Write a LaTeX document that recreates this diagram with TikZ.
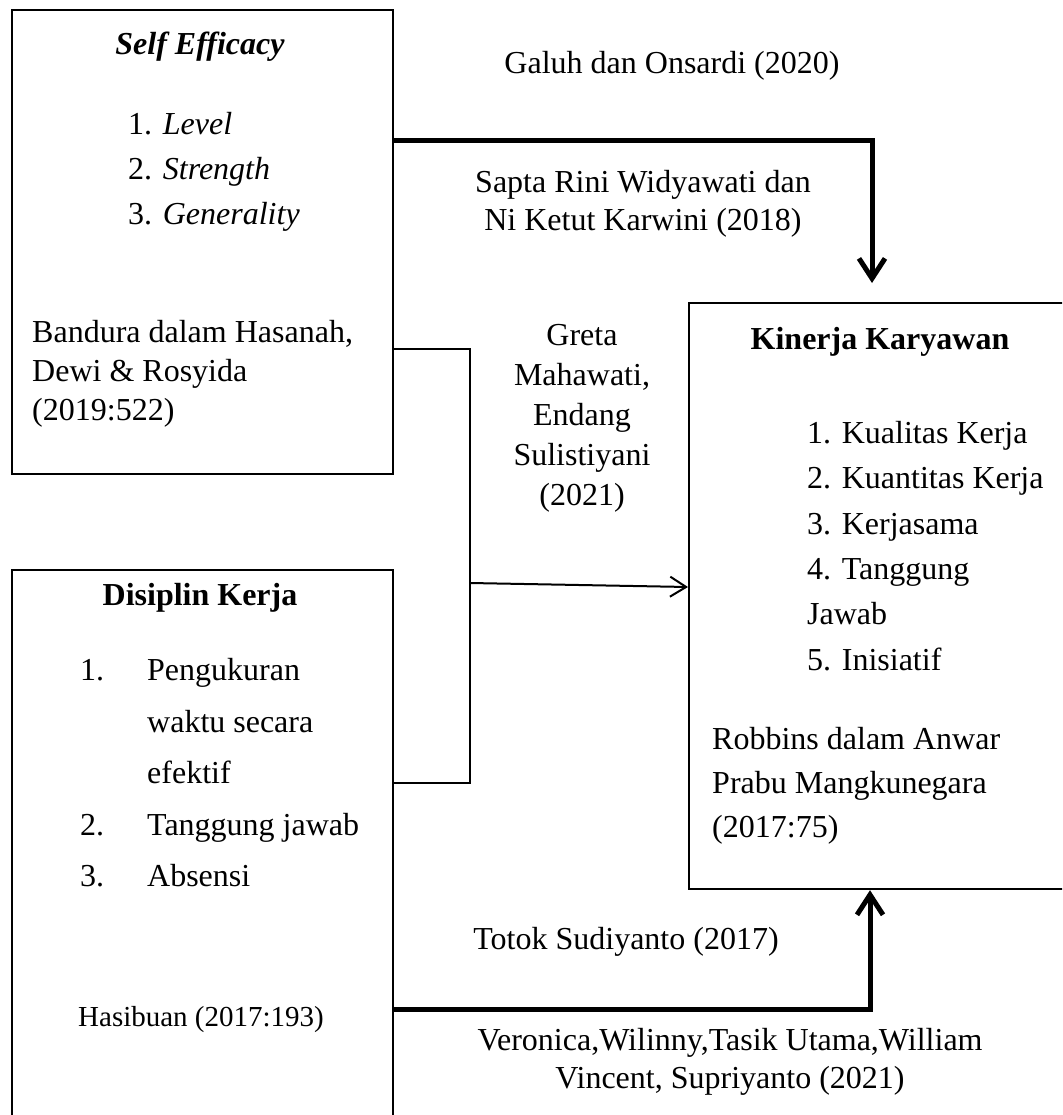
\documentclass[tikz,border=0pt]{standalone}
\usepackage{fontspec}
\setmainfont{Liberation Serif}
\usetikzlibrary{arrows.meta}
\begin{document}
\begin{tikzpicture}[x=1pt,y=-1pt,
  box/.style={draw,line width=2.2pt,rectangle,anchor=north west,inner sep=0pt},
  txt/.style={inner sep=0pt,font=\fontsize{32}{38}\selectfont},
  thickarr/.style={line width=5pt,-{Straight Barb[length=20pt,width=26pt]}},
  thinline/.style={line width=2pt},
  thinarr/.style={line width=2pt,-{Straight Barb[length=16pt,width=20pt]}}]
\useasboundingbox (0,0) rectangle (1062,1115);
\clip (0,0) rectangle (1062,1115);
\fill[white] (0,0) rectangle (1062,1115);
% boxes
\node[box,minimum width=381pt,minimum height=464pt] (b1) at (11,9) {};
\node[box,minimum width=381pt,minimum height=570pt] (b2) at (11,569) {};
\node[box,minimum width=400pt,minimum height=586pt] (b3) at (688,302) {};
% box texts
\node[txt] (se) at (200,47) {\textbf{\textit{Self Efficacy}}};
\node[txt,align=left,font=\fontsize{32}{45}\selectfont,anchor=west] (sel) at (128,172) {1. \textit{Level}\\2. \textit{Strength}\\3. \textit{Generality}};
\node[txt,align=left,font=\fontsize{32}{39}\selectfont,anchor=west] (ban) at (32,374) {Bandura dalam Hasanah,\\Dewi \& Rosyida\\(2019:522)};
\node[txt] (dk) at (200,598) {\textbf{Disiplin Kerja}};
\node[txt,align=left,font=\fontsize{32}{51.5}\selectfont,anchor=west] (dkl) at (80,773) {\makebox[67pt][l]{1.}Pengukuran\\\hspace*{67pt}waktu secara\\\hspace*{67pt}efektif\\\makebox[67pt][l]{2.}Tanggung jawab\\\makebox[67pt][l]{3.}Absensi};
\node[txt,font=\fontsize{29}{35}\selectfont,anchor=west] (has) at (78,1020) {Hasibuan (2017:193)};
\node[txt] (kk) at (880,342) {\textbf{Kinerja Karyawan}};
\node[txt,align=left,font=\fontsize{32}{45.4}\selectfont,anchor=west] (kkl) at (807,546) {1. Kualitas Kerja\\2. Kuantitas Kerja\\3. Kerjasama\\4. Tanggung\\Jawab\\5. Inisiatif};
\node[txt,align=left,font=\fontsize{32}{44}\selectfont,anchor=west] (rob) at (712,786) {Robbins dalam Anwar\\Prabu Mangkunegara\\(2017:75)};
% connector labels
\node[txt] (l1) at (672,66) {Galuh dan Onsardi (2020)};
\node[txt,align=center] (l2) at (643,204) {Sapta Rini Widyawati dan\\Ni Ketut Karwini (2018)};
\node[txt,align=center,font=\fontsize{32}{40}\selectfont] (l3) at (582,418) {Greta\\Mahawati,\\Endang\\Sulistiyani\\(2021)};
\node[txt] (l4) at (626,942) {Totok Sudiyanto (2017)};
\node[txt,align=center] (l5) at (730,1062) {Veronica,Wilinny,Tasik Utama,William\\Vincent, Supriyanto (2021)};
% coordinates
\coordinate (tipA) at (872,283);
\coordinate (j1) at (470,349);
\coordinate (j2) at (470,783);
\coordinate (jm) at (470,583);
% connectors
\draw[thickarr] (b1.east |- 0,141) -| (tipA);
\draw[thinline] (b1.east |- j1) -- (j1) -- (j2) -- (b2.east |- j2);
\draw[thinarr] (jm) -- (b3.west |- 0,587);
\draw[thickarr] (b2.east |- 0,1009) -| (b3.south -| 870,0);
\end{tikzpicture}
\end{document}
